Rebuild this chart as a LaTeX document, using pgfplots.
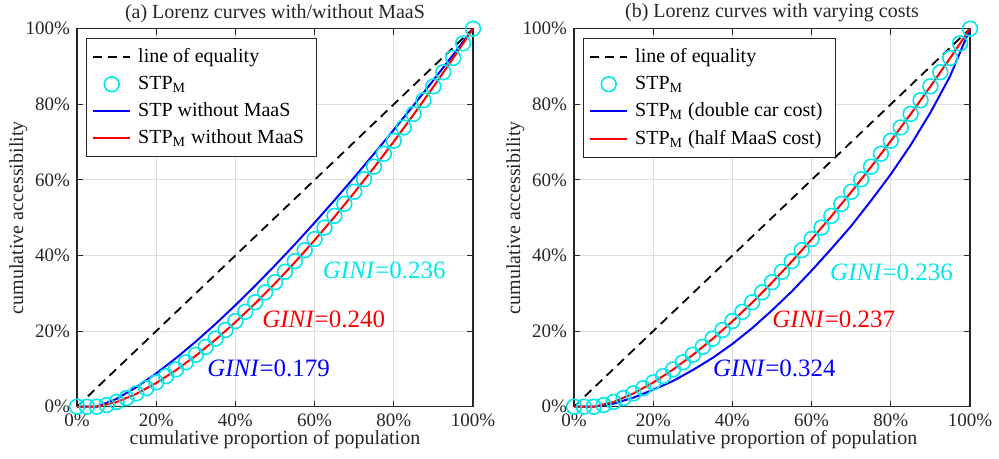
\documentclass[border=0pt]{standalone}
\usepackage{fontspec}
\setmainfont{Liberation Serif}
\usepackage{pgfplots}
\usepackage{pgfplotstable}
\pgfplotsset{compat=1.18}
\definecolor{mcyan}{RGB}{0,232,235}
\definecolor{axc}{RGB}{38,38,38}

\pgfplotstableread{
x y
0 0
0.025 0
0.05 0
0.075 0.0045
0.1 0.0126
0.125 0.0229
0.15 0.0352
0.175 0.0490
0.2 0.0643
0.225 0.0808
0.25 0.0986
0.275 0.1175
0.3 0.1374
0.325 0.1583
0.35 0.1801
0.375 0.2029
0.4 0.2265
0.425 0.2510
0.45 0.2763
0.475 0.3024
0.5 0.3292
0.525 0.3568
0.55 0.3850
0.575 0.4140
0.6 0.4436
0.625 0.4739
0.65 0.5049
0.675 0.5366
0.7 0.5687
0.725 0.6017
0.75 0.6350
0.775 0.6691
0.8 0.7036
0.825 0.7388
0.85 0.7745
0.875 0.8107
0.9 0.8476
0.925 0.8849
0.95 0.9227
0.975 0.9611
1 1
}\stpm

\pgfplotstableread{
x y
0 0
0.05 0
0.1 0.0121
0.15 0.0341
0.2 0.0627
0.25 0.0966
0.3 0.1350
0.35 0.1775
0.4 0.2236
0.45 0.2732
0.5 0.3260
0.55 0.3818
0.6 0.4405
0.65 0.5019
0.7 0.5660
0.75 0.6325
0.8 0.7015
0.85 0.7728
0.9 0.8463
0.95 0.9221
1 1
}\stpmnomaas

\pgfplotstableread{
x y
0 0
0.05 0
0.1 0.0207
0.15 0.0516
0.2 0.0880
0.25 0.1285
0.3 0.1723
0.35 0.2191
0.4 0.2685
0.45 0.3201
0.5 0.3738
0.55 0.4294
0.6 0.4868
0.65 0.5460
0.7 0.6067
0.75 0.6689
0.8 0.7325
0.85 0.7974
0.9 0.8637
0.95 0.9312
1 1
}\stpnomaas

\pgfplotstableread{
x y
0 0
0.05 0
0.1 0.0124
0.15 0.0350
0.2 0.0640
0.25 0.0982
0.3 0.1369
0.35 0.1795
0.4 0.2258
0.45 0.2755
0.5 0.3284
0.55 0.3842
0.6 0.4428
0.65 0.5041
0.7 0.5679
0.75 0.6343
0.8 0.7030
0.85 0.7740
0.9 0.8472
0.95 0.9225
1 1
}\halfmaas

\pgfplotstableread{
x y
0 0
0.05 0
0.1 0.008
0.15 0.024
0.2 0.045
0.25 0.068
0.3 0.097
0.35 0.129
0.4 0.166
0.45 0.208
0.5 0.255
0.55 0.305
0.6 0.360
0.65 0.418
0.7 0.478
0.75 0.545
0.8 0.615
0.85 0.692
0.9 0.778
0.95 0.875
1 1
}\doublecar

\pgfplotstableread{
x y
0 0
1 1
}\equality

\tikzset{
  ttl/.style={font=\fontsize{10}{12}\selectfont, text=axc, anchor=center, inner sep=0pt},
  gini/.style={anchor=west, font=\fontsize{12.5}{14}\selectfont, inner sep=0pt},
}

\pgfplotsset{
  lorenz/.style={
    width=198pt, height=189pt, scale only axis,
    xmin=0, xmax=1, ymin=0, ymax=1,
    xtick={0,0.2,0.4,0.6,0.8,1}, ytick={0,0.2,0.4,0.6,0.8,1},
    xticklabels={0\%,20\%,40\%,60\%,80\%,100\%},
    yticklabels={0\%,20\%,40\%,60\%,80\%,100\%},
    grid=major, major grid style={draw=black!13, line width=0.5pt},
    tick align=inside, major tick length=3pt,
    axis line style={draw=axc, line width=0.6pt},
    every tick/.style={axc, line width=0.5pt},
    tick label style={font=\fontsize{9.5}{11}\selectfont, text=axc},
    label style={font=\fontsize{10}{12}\selectfont, text=axc},
    xlabel={cumulative proportion of population},
    ylabel={cumulative accessibility},
    xlabel style={at={(axis description cs:0.5,-0.088)}, anchor=center},
    ylabel style={at={(axis description cs:-0.148,0.5)}, anchor=center},
    legend style={at={(axis description cs:0.022,0.975)}, anchor=north west,
      draw=axc, line width=0.5pt, fill=white, font=\fontsize{10}{12}\selectfont,
      inner xsep=3pt, inner ysep=3pt, row sep=1.2pt,
      nodes={inner xsep=3.5pt}},
    legend cell align=left,
    clip=false,
  },
  eqline/.style={black, dashed, line width=0.9pt, dash pattern=on 4.5pt off 3pt,
    legend image code/.code={\draw[#1] (0cm,0cm) -- (0.65cm,0cm);}},
  cmarks/.style={only marks, mark=o, mark size=3.7pt, mcyan, mark options={line width=0.8pt},
    legend image code/.code={\draw[mark options={line width=0.8pt}] plot coordinates {(0.325cm,0cm)};}},
  bline/.style={blue, line width=1pt, no marks,
    legend image code/.code={\draw[#1] (0cm,0cm) -- (0.65cm,0cm);}},
  rline/.style={red, line width=1pt, no marks,
    legend image code/.code={\draw[#1] (0cm,0cm) -- (0.65cm,0cm);}},
}

\begin{document}
\begin{tikzpicture}
\useasboundingbox (-38.5pt,-26.15pt) rectangle (461pt,203.35pt);
\begin{axis}[lorenz]
\addplot[eqline] table[x=x,y=y] {\equality};
\addlegendentry{line of equality}
\addplot[cmarks] table[x=x,y=y] {\stpm};
\addlegendentry{STP\textsubscript{M}}
\addplot[bline] table[x=x,y=y] {\stpnomaas};
\addlegendentry{STP without MaaS}
\addplot[rline] table[x=x,y=y] {\stpmnomaas};
\addlegendentry{STP\textsubscript{M} without MaaS}
\node[ttl] at (axis description cs:0.5,1.041) {(a) Lorenz curves with/without MaaS};
\node[gini, text=mcyan] at (axis cs:0.62,0.36) {\textit{GINI}=0.236};
\node[gini, text=red] at (axis cs:0.467,0.232) {\textit{GINI}=0.240};
\node[gini, text=blue] at (axis cs:0.328,0.102) {\textit{GINI}=0.179};
\end{axis}
\begin{axis}[lorenz, xshift=248.5pt]
\addplot[eqline] table[x=x,y=y] {\equality};
\addlegendentry{line of equality}
\addplot[cmarks] table[x=x,y=y] {\stpm};
\addlegendentry{STP\textsubscript{M}}
\addplot[bline] table[x=x,y=y] {\doublecar};
\addlegendentry{STP\textsubscript{M} (double car cost)}
\addplot[rline] table[x=x,y=y] {\halfmaas};
\addlegendentry{STP\textsubscript{M} (half MaaS cost)}
\node[ttl] at (axis description cs:0.5,1.041) {(b) Lorenz curves with varying costs};
\node[gini, text=mcyan] at (axis cs:0.646,0.356) {\textit{GINI}=0.236};
\node[gini, text=red] at (axis cs:0.50,0.232) {\textit{GINI}=0.237};
\node[gini, text=blue] at (axis cs:0.35,0.102) {\textit{GINI}=0.324};
\end{axis}
\end{tikzpicture}
\end{document}
